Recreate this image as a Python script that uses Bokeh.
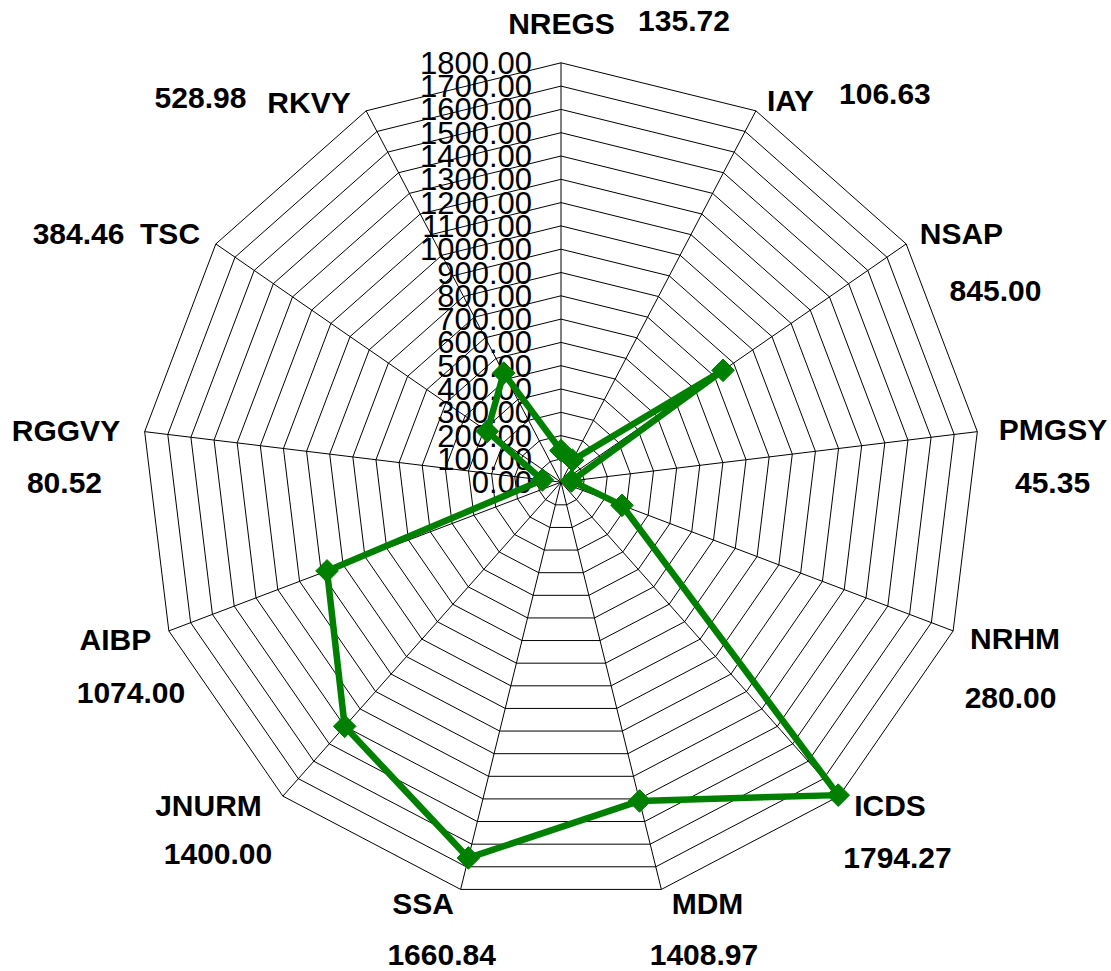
import math
from bokeh.plotting import figure
from bokeh.models import Range1d, ColumnDataSource
from bokeh.embed import file_html
from bokeh.resources import INLINE
from bokeh.core.properties import value

# ---- data ----
categories = ["NREGS", "IAY", "NSAP", "PMGSY", "NRHM", "ICDS", "MDM",
              "SSA", "JNURM", "AIBP", "RGGVY", "TSC", "RKVY"]
amounts = [135.72, 106.63, 845.00, 45.35, 280.00, 1794.27, 1408.97,
           1660.84, 1400.00, 1074.00, 80.52, 384.46, 528.98]
ring_levels = [100 * i for i in range(0, 19)]
ring_labels = ["%.2f" % v for v in ring_levels]
r_max = 1800.0

# ---- layout (pixel offsets of labels from each outer vertex) ----
name_dx = [0.5, 34.6, 55.3, 75.7, 61.9, 50.9, 46.1, -37.6, -74.4, -53.4, -78.7, -45.8, -57.1]
name_dy = [-39.3, -10.3, -10.4, -2.2, 7.6, 9.4, 14.1, 14.1, 9.4, 8.6, -1.2, -10.4, -8.3]
val_dx = [123.0, 129.0, 89.3, 75.2, 57.4, 58.4, 42.6, -19.0, -64.9, -37.9, -80.2, -137.3, -165.6]
val_dy = [-42.3, -17.3, 46.6, 51.8, 66.6, 61.4, 65.5, 65.5, 57.4, 61.6, 51.8, -10.4, -13.3]

W, H = 1111, 971
cx, cy = 560.5, 481.7          # centre in plot pixels (from top-left)
k = 419.4 / r_max              # pixels per unit

n = len(categories)
ang = [2 * math.pi * i / n for i in range(n)]

def pt(r, a):
    return r * math.sin(a), r * math.cos(a)

p = figure(width=W, height=H, output_backend="svg", toolbar_location=None,
           min_border=0, x_axis_type=None, y_axis_type=None)
p.x_range = Range1d(-cx / k, (W - cx) / k)
p.y_range = Range1d(-(H - cy) / k, cy / k)
p.xgrid.visible = False
p.ygrid.visible = False
p.outline_line_color = None
p.background_fill_color = "white"
p.border_fill_color = "white"

# rings
rx, ry = [], []
for lv in ring_levels[1:]:
    xs = [pt(lv, a)[0] for a in ang] + [pt(lv, ang[0])[0]]
    ys = [pt(lv, a)[1] for a in ang] + [pt(lv, ang[0])[1]]
    rx.append(xs)
    ry.append(ys)
p.multi_line(rx, ry, line_color="black", line_width=1)

# spokes
sx = [[0, pt(r_max, a)[0]] for a in ang]
sy = [[0, pt(r_max, a)[1]] for a in ang]
p.multi_line(sx, sy, line_color="black", line_width=1)

# radial tick labels
p.text(x=[0] * len(ring_levels), y=ring_levels, text=ring_labels,
       x_offset=-29, text_align="right", text_baseline="middle",
       text_font=value("Liberation Sans"), text_font_size="31px",
       text_color="black")

# data series
dx = [pt(v, a)[0] for v, a in zip(amounts, ang)]
dy = [pt(v, a)[1] for v, a in zip(amounts, ang)]
p.line(dx + [dx[0]], dy + [dy[0]], line_color="#008000", line_width=6.5,
       line_join="round")
p.scatter(dx, dy, marker="square", angle=math.pi / 4, size=16,
          fill_color="#008000", line_color="#008000")

# category labels and values
vx = [pt(r_max, a)[0] for a in ang]
vy = [pt(r_max, a)[1] for a in ang]
src = ColumnDataSource(dict(x=vx, y=vy, name=categories,
                            val=["%.2f" % v for v in amounts],
                            ndx=name_dx, ndy=name_dy, vdx=val_dx, vdy=val_dy))
p.text(x="x", y="y", text="name", x_offset="ndx", y_offset="ndy", source=src,
       text_align="center", text_baseline="middle",
       text_font=value("Liberation Sans"), text_font_style="bold",
       text_font_size="30px", text_color="black")
p.text(x="x", y="y", text="val", x_offset="vdx", y_offset="vdy", source=src,
       text_align="center", text_baseline="middle",
       text_font=value("Liberation Sans"), text_font_style="bold",
       text_font_size="30px", text_color="black")

open("out.html", "w").write(file_html(p, INLINE))
